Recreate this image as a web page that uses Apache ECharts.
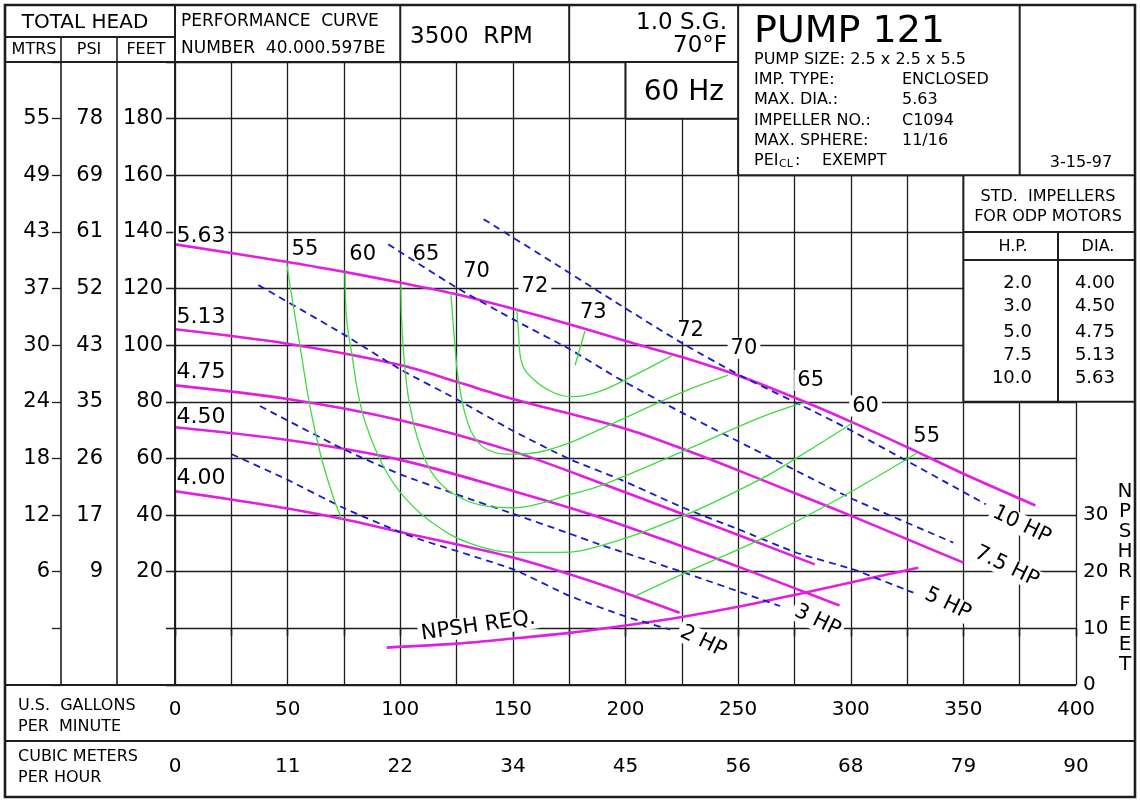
<!DOCTYPE html>
<html><head><meta charset="utf-8">
<script src="https://cdn.jsdelivr.net/npm/echarts@6/dist/echarts.min.js"></script>
<style>html,body{margin:0;padding:0;background:#fff}#c{width:1140px;height:801px}</style>
</head><body><div id="c"></div>
<script>
// ---------------- tick labels ----------------
const gpmTickLabels  = ['0','50','100','150','200','250','300','350','400'];
const cmhTickLabels  = ['0','11','22','34','45','56','68','79','90'];
const feetTickValues = [20,40,60,80,100,120,140,160,180];
const feetTickLabels = ['20','40','60','80','100','120','140','160','180'];
const psiTickLabels  = ['9','17','26','35','43','52','61','69','78'];
const mtrsTickLabels = ['6','12','18','24','30','37','43','49','55'];
const npshTickLabels = ['0','10','20','30'];

// ---------------- head curves (gpm, ft) ----------------
const head563 = [[0,135.6],[50,129.4],[75,125.9],[100,122.1],[125,118],[150,112.9],[175,107.4],[200,101.5],[225,95.8],[250,89.3],[275,81.5],[300,73],[325,64],[350,54.6],[382,43.4]];
const head513 = [[0,105.6],[50,100.5],[100,93],[125,87.1],[150,81],[200,70.5],[225,63.5],[250,55.8],[275,47.8],[300,39.8],[325,31.5],[350,23.2]];
const head475 = [[0,85.8],[50,81],[100,73.5],[150,62.5],[190,51],[225,40.5],[250,33],[284,22.6]];
const head450 = [[0,71],[50,66.5],[100,59.5],[150,48.5],[189,39.1],[225,29],[250,21.8],[295,8.1]];
const head400 = [[0,48.4],[25,45.5],[50,42.3],[75,38.5],[100,34],[150,25],[189,15.5],[224,5.5]];
// NPSH required (gpm, NPSH ft)
const npshReq = [[94,6.6],[125,7.3],[150,8.2],[175,9.2],[200,10.5],[225,12],[250,13.8],[275,15.9],[300,18.1],[330,20.7]];

// ---------------- horsepower lines ----------------
const hp10 = [[137,144.5],[171,127.6],[198,114],[226,100.3],[251,89.3],[278,78.8],[298,70.8],[360,43.8]];
const hp75 = [[94.7,135.6],[125.1,120.3],[150.2,109.1],[175.4,98.5],[196.1,88.6],[225,76.2],[276,55.6],[301.1,45.6],[345.5,30.3]];
const hp5  = [[37,121.2],[74.7,103.9],[99.9,91.5],[125.1,80.9],[150.2,69.7],[175.4,59.7],[197.6,52.6],[225.7,42.6],[250.1,35],[276,26.7],[301.1,20.8],[327.8,12.6]];
const hp3  = [[37.7,78.5],[75,63.2],[100,54.4],[125,47.3],[150,40.5],[175,33.5],[189,29.5],[226,19.7],[268.6,7.9]];
const hp2  = [[25.2,61.5],[49.6,52.6],[74.7,42.6],[99.9,34],[108.8,31.4],[150.2,20.8],[175.4,11.4],[200.5,4.1],[219.8,-0.4]];

// ---------------- efficiency curves ----------------
const eff55L = [[49.6,129.2],[51.1,120.9],[55.5,99.7],[59.9,78.5],[64.4,62.1],[69.6,47.9],[74,38.5]];
const eff55R = [[204.2,11.4],[225.7,19.3],[262.7,32.5],[294,45.5],[329.6,62]];
const eff60  = [[75.5,125.6],[76.2,109.1],[78.4,97.4],[82.1,79.7],[86.6,67.9],[93.2,56.2],[101.4,46.7],[113.2,37.9],[131,30],[153.2,26.8],[170.9,26.8],[188.7,29.1],[225.7,39.7],[259.7,52.6],[277.5,60.9],[301.1,72.7]];
const eff65  = [[100.3,121.5],[100.6,109.1],[102.1,91.5],[104.3,78.5],[108.8,64.4],[116.2,52.6],[128,45.6],[138.4,43.2],[150.2,42.6],[163.5,44.4],[175.4,47.3],[188.7,50.3],[225.7,62.6],[259.7,74.4],[278.9,79.7]];
const eff70  = [[122.5,118.3],[124.3,99.7],[125.8,88],[129.5,73.8],[134.7,65.6],[142.1,62.1],[150.2,61.5],[160.6,62.1],[175.4,65.6],[188.7,70.3],[225,83.3],[245.6,89.4]];
const eff72  = [[151.7,112.7],[152.4,105.6],[153.9,93.9],[159.1,88],[168,83.3],[176.8,81.8],[187.2,83.3],[200.5,88],[220.5,96.2]];
const eff73  = [[182,105],[177.6,92.9]];

// ---------------- in-chart labels ----------------
const diameterLabels  = ['5.63','5.13','4.75','4.50','4.00'];
const diameterLabelAt = [[11.5,138.6],[11.5,110.0],[11.5,90.6],[11.5,74.7],[11.5,53.1]];
const effLabels  = ['55','60','65','70','72','73','72','70','65','60','55'];
const effLabelAt = [[57.7,133.6],[83.3,131.9],[111.4,132.1],[133.9,126],[159.8,120.7],[185.7,111.5],[228.9,105.1],[252.6,98.9],[282.2,87.5],[306.6,78.5],[333.7,67.9]];
const hpLabels  = ['10 HP','7.5 HP','5 HP','3 HP','2 HP'];
const hpLabelAt = [[375.9,36.5],[369.2,21.8],[343,8.6],[285.2,2.7],[234.5,-4.7]];
const npshLabel = 'NPSH REQ.';
const npshLabelAt = [134.7,0.85];

// ---------------- title block texts ----------------
const stdHP  = ['2.0','3.0','5.0','7.5','10.0'];
const stdDIA = ['4.00','4.50','4.75','5.13','5.63'];
const pumpInfoKeys = ['IMP. TYPE:','MAX. DIA.:','IMPELLER NO.:','MAX. SPHERE:'];
const pumpInfoVals = ['ENCLOSED','5.63','C1094','11/16'];

// ================= build =================
const FONT = '"DejaVu Sans", Verdana, sans-serif';
const INK = '#000';
const LINE = '#1e1e1e';
const GL=175, GR=1076, GT=62, GB=685;
const X = g => GL + g*(GR-GL)/400;
const Y = f => GB - (f+20)*(GB-GT)/220;

const chart = echarts.init(document.getElementById('c'), null, {renderer:'canvas', width:1140, height:801});

function ln(name, data, color, width, dash, yIdx, smooth){
  return {type:'line', name, data, yAxisIndex:yIdx||0, xAxisIndex:0, showSymbol:false, symbol:'none',
    smooth: smooth===undefined?0.3:smooth, silent:true, animation:false, z:3,
    lineStyle:{color, width, type: dash||'solid', cap:'butt'}};
}
const MAG='#e11ee1', GRN='#3fdc3f', BLU='#1a1ac8';
const series = [
  ln('5.63',head563,MAG,2.6), ln('5.13',head513,MAG,2.6), ln('4.75',head475,MAG,2.6),
  ln('4.50',head450,MAG,2.6), ln('4.00',head400,MAG,2.6),
  ln('NPSH',npshReq,MAG,2.6,null,3),
  ln('10HP',hp10,BLU,1.8,[7,5],0,0.2), ln('7.5HP',hp75,BLU,1.8,[7,5],0,0.2), ln('5HP',hp5,BLU,1.8,[7,5],0,0.2),
  ln('3HP',hp3,BLU,1.8,[7,5],0,0.2), ln('2HP',hp2,BLU,1.8,[7,5],0,0.2),
  ln('e55L',eff55L,GRN,1.3,null,0,0.4), ln('e55R',eff55R,GRN,1.3,null,0,0.4), ln('e60',eff60,GRN,1.3,null,0,0.4),
  ln('e65',eff65,GRN,1.3,null,0,0.4), ln('e70',eff70,GRN,1.3,null,0,0.4), ln('e72',eff72,GRN,1.3,null,0,0.4), ln('e73',eff73,GRN,1.3,null,0,0)
];
const labelItems = [];
diameterLabels.forEach((t,i)=>labelItems.push({value:diameterLabelAt[i], name:t, label:{fontSize:22}}));
effLabels.forEach((t,i)=>labelItems.push({value:effLabelAt[i], name:t, label:{fontSize:21}}));
hpLabels.forEach((t,i)=>labelItems.push({value:hpLabelAt[i], name:t, label:{fontSize:21, rotate:-26}}));
labelItems.push({value:npshLabelAt, name:npshLabel, label:{fontSize:21, rotate:8}});
series.push({type:'scatter', data:labelItems, symbol:'circle', symbolSize:0.1, itemStyle:{color:'#fff', opacity:1}, silent:true, animation:false, z:2,
  label:{show:true, position:'inside', formatter:'{b}', color:INK, opacity:1, textBorderWidth:0, fontFamily:FONT, backgroundColor:'#fff', padding:[0,3]}});

const tickStyle = {color:LINE, width:1.3};
function yAx(offset, labels, margin, showSplit){
  return {type:'value', min:-20, max:200, interval:20, position:'left', offset,
    axisLine:{show:false}, axisTick:{show:true, length:9, lineStyle:tickStyle},
    splitLine:{show:showSplit, lineStyle:{color:LINE, width:1.3}},
    axisLabel:{margin, fontSize:21, fontFamily:FONT, color:INK, showMinLabel:true, showMaxLabel:true,
      formatter:v=>{const i=feetTickValues.indexOf(v); return i<0?'':labels[i];}}};
}
function xAx(offset, labels, margin, showSplit){
  return {type:'value', min:0, max:400, interval:25, position:'bottom', offset,
    axisLine:{show:false}, axisTick:{show:true, length:8, lineStyle:tickStyle},
    splitLine:{show:showSplit, lineStyle:{color:LINE, width:1.3}},
    axisLabel:{margin, fontSize:20, fontFamily:FONT, color:INK, showMinLabel:true, showMaxLabel:true,
      formatter:v=>v%50===0?labels[v/50]:''}};
}

// graphic helpers
const G = [];
const L = (x1,y1,x2,y2,w)=>G.push({type:'line', shape:{x1,y1,x2,y2}, style:{stroke:LINE, lineWidth:w||2}, z:101, silent:true});
const W = (x,y,w,h)=>G.push({type:'rect', shape:{x,y,width:w,height:h}, style:{fill:'#fff'}, z:100, silent:true});
const T = (x,y,text,size,align,va)=>G.push({type:'text', x, y, z:102, silent:true,
  style:{text, fontSize:size, fontFamily:FONT, fill:INK, align:align||'left', verticalAlign:va||'middle'}});

// white covers for title blocks over the grid
W(X(200), GT-2, X(250)-X(200), Y(180)-GT+2);
W(X(250), GT-2, 1135-X(250), Y(160)-GT+2);
W(X(350), Y(160), 1135-X(350), Y(80)-Y(160));

// frame & boxes
G.push({type:'rect', shape:{x:5,y:5,width:1130,height:792}, style:{fill:'none', stroke:LINE, lineWidth:2.6}, z:103, silent:true});
L(5,37,X(0),37); L(5,GT,X(250),GT);
L(61,37,61,GB,1.6); L(117,37,117,GB,1.6); L(X(0),5,X(0),GB,2);
L(X(100),5,X(100),GT); L(X(175),5,X(175),GT); L(X(250),5,X(250),Y(160));
L(X(200),GT,X(200),Y(180)); L(X(200),Y(180),X(250),Y(180));
L(X(375),5,X(375),Y(160)); L(X(250),Y(160),1135,Y(160));
L(X(350),Y(160),X(350),Y(80)); L(X(350),Y(140),1135,Y(140)); L(X(350),260,1135,260);
L(X(350),Y(80),1135,Y(80)); L(1058,Y(140),1058,Y(80));
L(5,GB,X(400),GB); L(5,741,1135,741);

// header texts
T(85,23,'TOTAL HEAD',20,'center');
T(34,50,'MTRS',16,'center'); T(89,50,'PSI',16,'center'); T(146,50,'FEET',16,'center');
T(181,22,'PERFORMANCE  CURVE',17); T(181,49,'NUMBER  40.000.597BE',17);
T(410,37,'3500  RPM',23);
T(727,23,'1.0 S.G.',23,'right'); T(727,46,'70°F',23,'right');
T((X(200)+X(250))/2+2,93,'60 Hz',28,'center');
T(754,32,'PUMP 121',38);
T(754,60,'PUMP SIZE: 2.5 x 2.5 x 5.5',16);
pumpInfoKeys.forEach((k,i)=>{T(754,80+i*20.3,k,16); T(902,80+i*20.3,pumpInfoVals[i],16);});
T(754,161,'PEI',16); T(779,164,'CL',11); T(795,161,':',16); T(822,161,'EXEMPT',16);
T(1081,163,'3-15-97',16,'center');
T(1048,197,'STD.  IMPELLERS',16,'center'); T(1048,217,'FOR ODP MOTORS',16,'center');
T(1013,247,'H.P.',16,'center'); T(1098,247,'DIA.',16,'center');
const stdY=[283,306,332,355,378];
stdHP.forEach((h,i)=>{T(1032,stdY[i],h,18,'right'); T(1115,stdY[i],stdDIA[i],18,'right');});
// bottom-left
T(18,706,'U.S.  GALLONS',16); T(18,727,'PER  MINUTE',16);
T(18,757,'CUBIC METERS',16); T(18,778,'PER HOUR',16);
// NPSHR FEET vertical
G.push({type:'text', x:1125, y:482, z:102, silent:true, style:{text:'N\nP\nS\nH\nR', fontSize:20, lineHeight:20, fontFamily:FONT, fill:INK, align:'center', verticalAlign:'top'}});
G.push({type:'text', x:1125, y:595, z:102, silent:true, style:{text:'F\nE\nE\nT', fontSize:20, lineHeight:20, fontFamily:FONT, fill:INK, align:'center', verticalAlign:'top'}});

chart.setOption({
  animation:false,
  backgroundColor:'#fff',
  grid:{left:GL, right:1140-GR, top:GT, bottom:801-GB, containLabel:false, outerBoundsMode:'none'},
  xAxis:[ xAx(0,gpmTickLabels,15,true), xAx(56,cmhTickLabels,16,false) ],
  yAxis:[ yAx(0,feetTickLabels,12,true), yAx(GL-117,psiTickLabels,14,false), yAx(GL-61,mtrsTickLabels,11,false),
    {type:'value', min:0, max:110, interval:10, position:'right', axisLine:{show:false}, axisTick:{show:false},
     splitLine:{show:false},
     axisLabel:{margin:7, fontSize:20, fontFamily:FONT, color:INK, showMinLabel:true, showMaxLabel:true,
       formatter:v=>(v%10===0 && v/10<npshTickLabels.length)?npshTickLabels[v/10]:''}} ],
  series,
  graphic:{elements:G}
});
</script></body></html>
